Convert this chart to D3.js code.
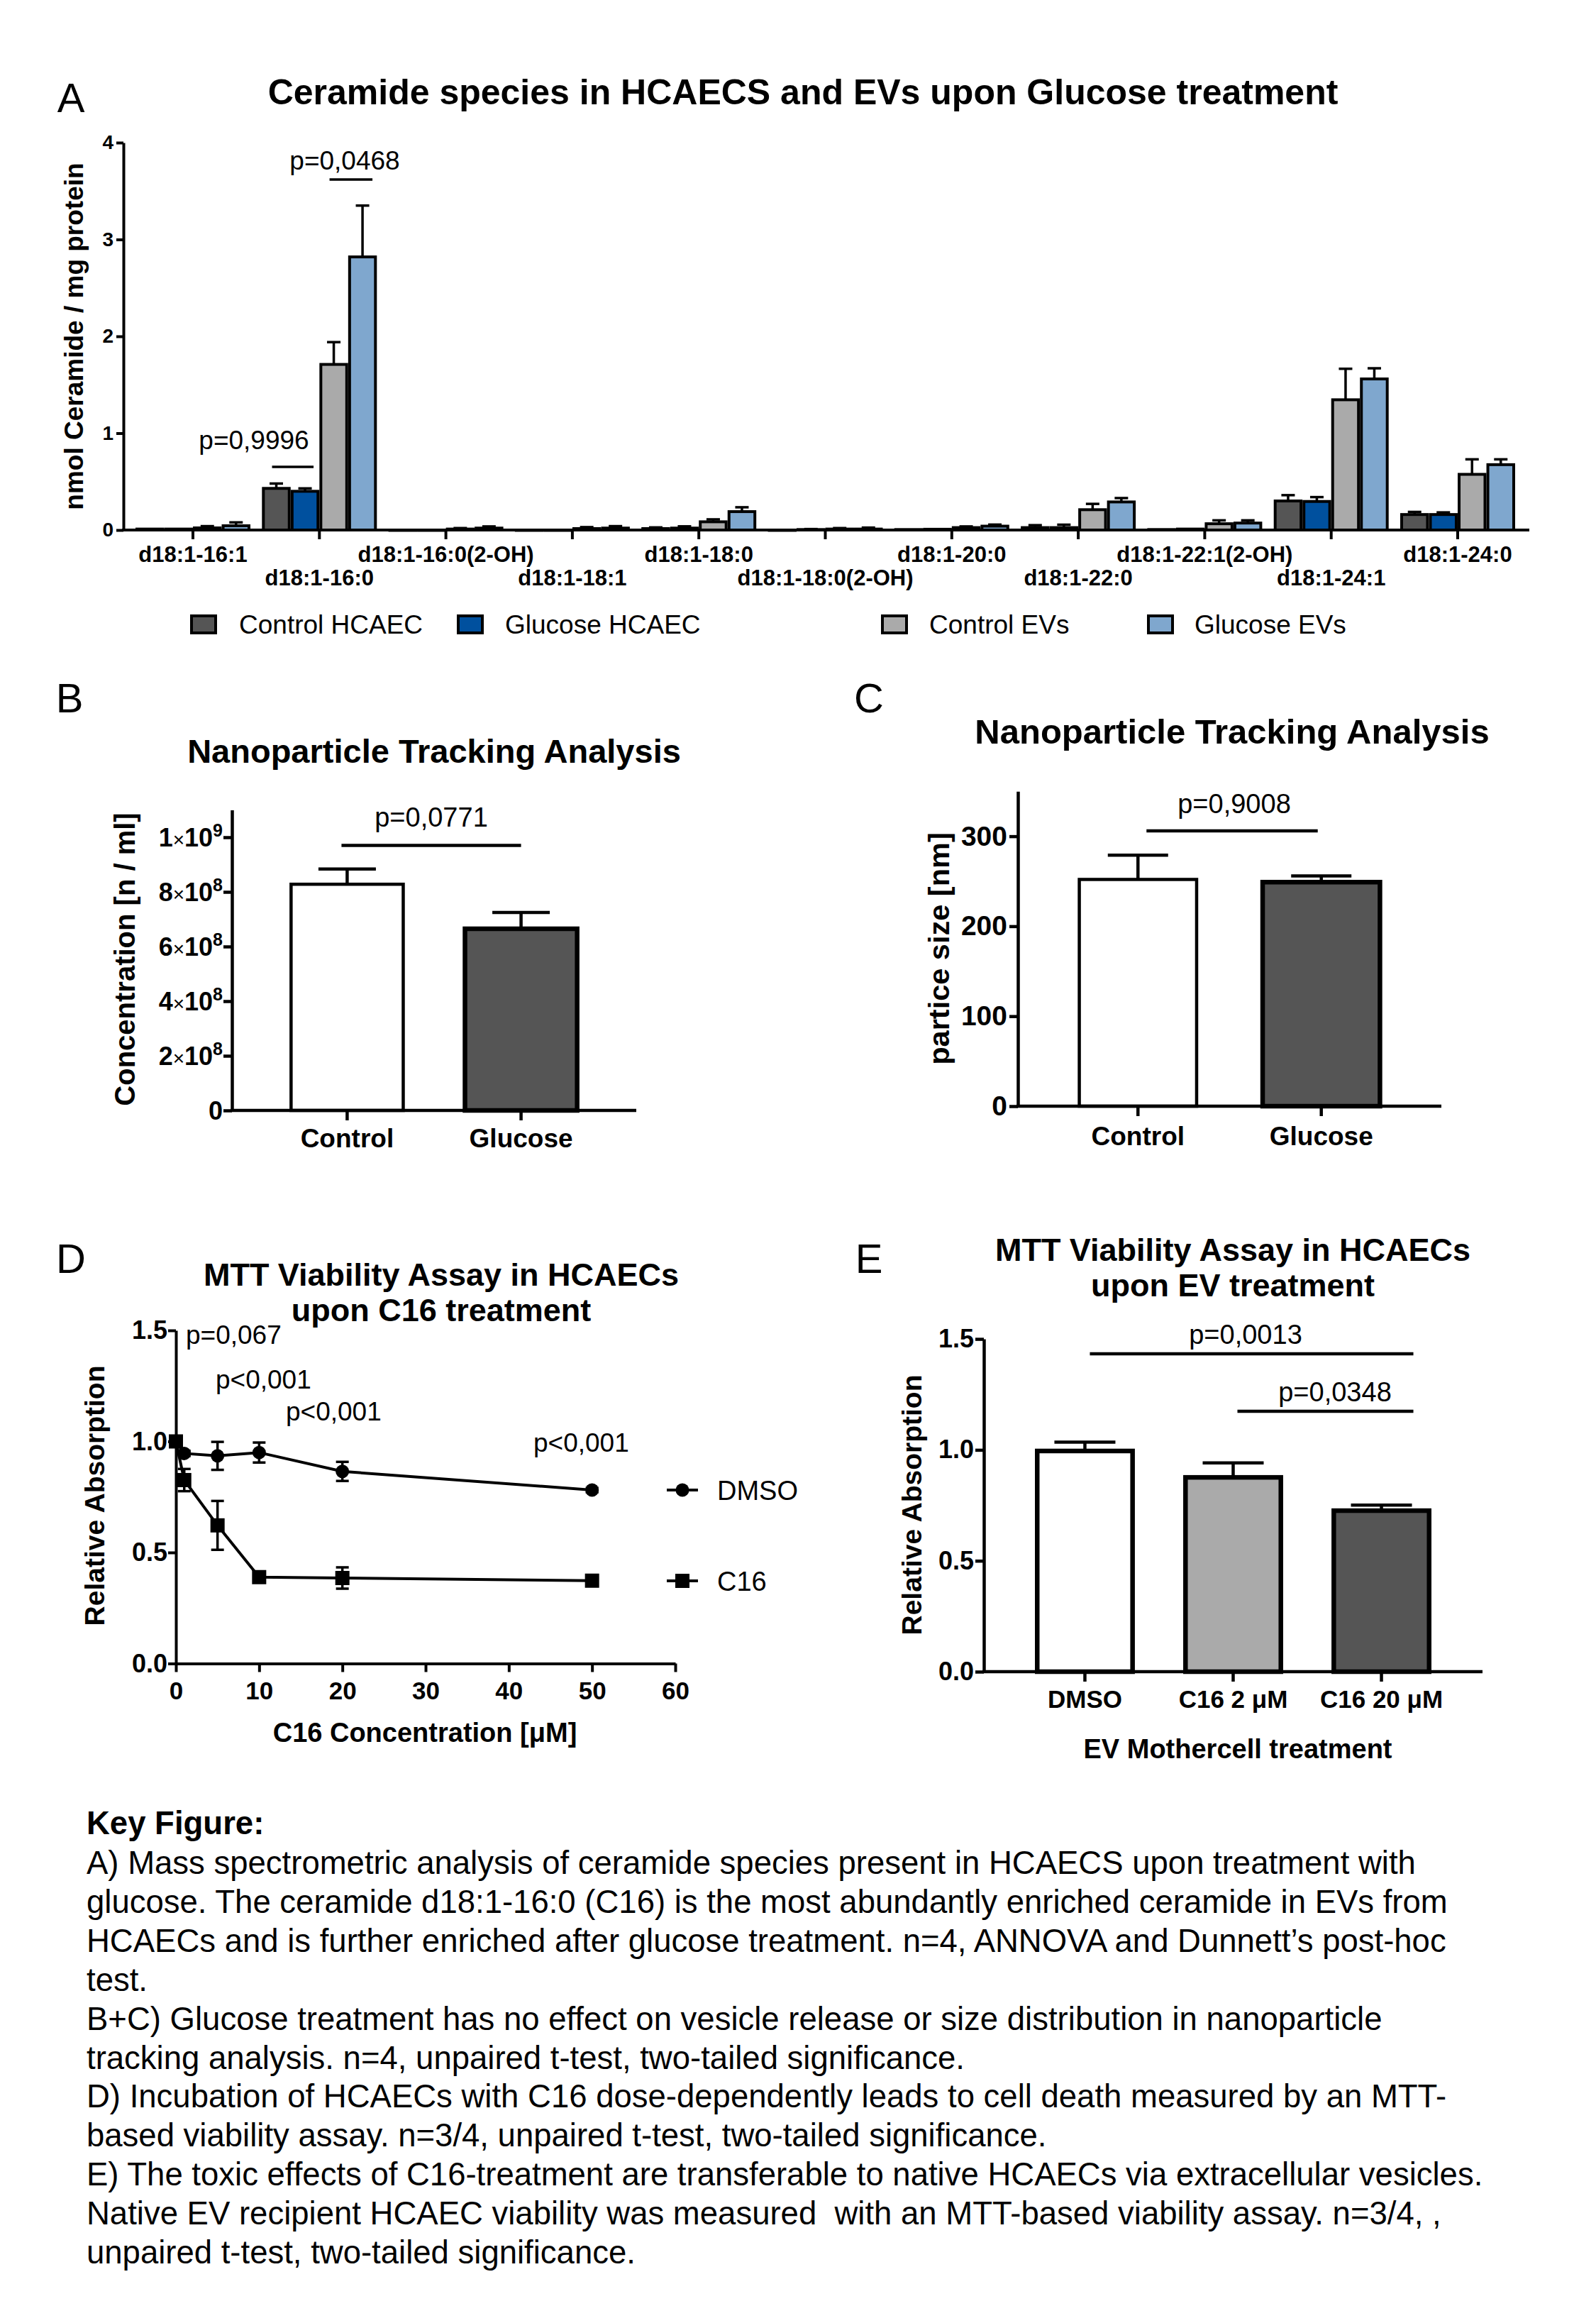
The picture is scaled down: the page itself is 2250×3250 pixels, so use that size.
<!DOCTYPE html>
<html>
<head>
<meta charset="utf-8">
<script src="https://cdn.jsdelivr.net/npm/d3@7"></script>
<style>
  body { margin: 0; background: #fff; }
  text { font-family: "Liberation Sans", Arial, Helvetica, sans-serif; fill: #000; }
</style>
</head>
<body>
<div id="fig"></div>
<script>

// ---- panel A: ceramide species ----
const ceramideSpecies = ["d18:1-16:1", "d18:1-16:0", "d18:1-16:0(2-OH)", "d18:1-18:1", "d18:1-18:0",
  "d18:1-18:0(2-OH)", "d18:1-20:0", "d18:1-22:0", "d18:1-22:1(2-OH)", "d18:1-24:1", "d18:1-24:0"];
const groupsA = ["Control HCAEC", "Glucose HCAEC", "Control EVs", "Glucose EVs"];
const colorsA = ["#555555", "#00509e", "#aaaaaa", "#7fa7ce"];
const ctrlHcaec    = [0.01, 0.43, 0.0,  0.0,   0.015, 0.0,   0.005, 0.025, 0.005, 0.30,  0.16];
const ctrlHcaecSem = [0.0,  0.05, 0.0,  0.0,   0.012, 0.0,   0.0,   0.025, 0.0,   0.06,  0.027];
const glucHcaec    = [0.01, 0.40, 0.0,  0.0,   0.02,  0.005, 0.008, 0.025, 0.01,  0.295, 0.16];
const glucHcaecSem = [0.0,  0.03, 0.0,  0.0,   0.018, 0.005, 0.0,   0.03,  0.0,   0.045, 0.022];
const ctrlEv       = [0.022, 1.71, 0.01, 0.015, 0.085, 0.01,  0.025, 0.21,  0.065, 1.345, 0.575];
const ctrlEvSem    = [0.018, 0.23, 0.01, 0.015, 0.025, 0.01,  0.012, 0.06,  0.035, 0.32,  0.155];
const glucEv       = [0.044, 2.82, 0.02, 0.02,  0.19,  0.01,  0.04,  0.29,  0.072, 1.56,  0.675];
const glucEvSem    = [0.035, 0.53, 0.017, 0.02, 0.045, 0.015, 0.016, 0.04,  0.028, 0.11,  0.055];
const ticksA = [0, 1, 2, 3, 4];

// ---- panel B: NTA concentration ----
const groupsB = ["Control", "Glucose"];
const concB = [8.28e8, 6.65e8];
const concBSem = [0.56e8, 0.6e8];
const ticksB = [0, 2e8, 4e8, 6e8, 8e8, 1e9];

// ---- panel C: NTA particle size ----
const groupsC = ["Control", "Glucose"];
const sizeC = [252, 249];
const sizeCSem = [27, 7];
const ticksC = [0, 100, 200, 300];

// ---- panel D: MTT dose response ----
const concD = [0, 1, 5, 10, 20, 50];
const dmsoD = [1.0, 0.946, 0.935, 0.95, 0.865, 0.781];
const dmsoDSem = [0.01, 0.012, 0.063, 0.045, 0.043, 0.01];
const c16D = [1.0, 0.826, 0.622, 0.389, 0.385, 0.373];
const c16DSem = [0.02, 0.05, 0.11, 0.012, 0.048, 0.012];
const pLabelsD = ["p=0,067", "p<0,001", "p<0,001", "p<0,001"];
const ticksDx = [0, 10, 20, 30, 40, 50, 60];
const ticksDy = [0, 0.5, 1.0, 1.5];

// ---- panel E: MTT after EV treatment ----
const groupsE = ["DMSO", "C16 2 \u03bcM", "C16 20 \u03bcM"];
const absE = [0.995, 0.876, 0.726];
const absESem = [0.04, 0.065, 0.025];
const ticksE = [0, 0.5, 1.0, 1.5];

const captionLines = [
  "A) Mass spectrometric analysis of ceramide species present in HCAECS upon treatment with",
  "glucose. The ceramide d18:1-16:0 (C16) is the most abundantly enriched ceramide in EVs from",
  "HCAECs and is further enriched after glucose treatment. n=4, ANNOVA and Dunnett\u2019s post-hoc",
  "test.",
  "B+C) Glucose treatment has no effect on vesicle release or size distribution in nanoparticle",
  "tracking analysis. n=4, unpaired t-test, two-tailed significance.",
  "D) Incubation of HCAECs with C16 dose-dependently leads to cell death measured by an MTT-",
  "based viability assay. n=3/4, unpaired t-test, two-tailed significance.",
  "E) The toxic effects of C16-treatment are transferable to native HCAECs via extracellular vesicles.",
  "Native EV recipient HCAEC viability was measured  with an MTT-based viability assay. n=3/4, ,",
  "unpaired t-test, two-tailed significance."
];

const FONT = '"Liberation Sans", Arial, Helvetica, sans-serif';
const W = 2250, H = 3250;

const svg = d3.select("#fig").append("svg")
  .attr("width", W).attr("height", H)
  .attr("viewBox", `0 0 ${W} ${H}`);
svg.append("rect").attr("width", W).attr("height", H).attr("fill", "#fff");

// small helpers
const label = (g, x, y, txt, size, opts = {}) => g.append("text")
  .attr("x", x).attr("y", y)
  .attr("font-size", size)
  .attr("font-weight", opts.bold ? "bold" : "normal")
  .attr("text-anchor", opts.anchor || "start")
  .attr("transform", opts.rotate ? `rotate(-90,${x},${y})` : null)
  .text(txt);

const hline = (g, x1, x2, y, sw) => g.append("line")
  .attr("x1", x1).attr("x2", x2).attr("y1", y).attr("y2", y)
  .attr("stroke", "#000").attr("stroke-width", sw);

const styleAxis = (g, sw, size) => {
  g.attr("font-family", FONT).attr("font-size", size).attr("font-weight", "bold");
  g.select(".domain").attr("stroke-width", sw).attr("stroke", "#000");
  g.selectAll(".tick line").attr("stroke-width", sw).attr("stroke", "#000");
  g.selectAll(".tick text").attr("fill", "#000");
};

// upward error bar (GraphPad style)
const errUp = (g, x, y0, y1, capW, sw) => {
  g.append("line").attr("x1", x).attr("x2", x).attr("y1", y0).attr("y2", y1)
    .attr("stroke", "#000").attr("stroke-width", sw);
  g.append("line").attr("x1", x - capW / 2).attr("x2", x + capW / 2).attr("y1", y1).attr("y2", y1)
    .attr("stroke", "#000").attr("stroke-width", sw);
};

// panel letters
[["A", 100, 158], ["B", 98, 1004], ["C", 1225, 1004], ["D", 100, 1794], ["E", 1225, 1794]]
  .forEach(([t, x, y]) => label(svg, x, y, t, 58, { anchor: "middle" }));

// ================= A =================
{
  const g = svg.append("g");
  const valsA = [ctrlHcaec, glucHcaec, ctrlEv, glucEv];
  const semA = [ctrlHcaecSem, glucHcaecSem, ctrlEvSem, glucEvSem];

  const x = d3.scalePoint().domain(ceramideSpecies).range([272, 2055]);
  const xs = d3.scaleBand().domain(groupsA).range([-79, 79]).paddingInner(0.1);
  const y = d3.scaleLinear().domain([0, 4]).range([747, 201]);

  label(g, 1132, 147, "Ceramide species in HCAECS and EVs upon Glucose treatment", 50, { bold: true, anchor: "middle" });

  groupsA.forEach((s, si) => {
    ceramideSpecies.forEach((c, ci) => {
      const v = valsA[si][ci], e = semA[si][ci];
      const bx = x(c) + xs(s);
      const cx = bx + xs.bandwidth() / 2;
      if (e > 0) errUp(g, cx, y(v), y(v + e), 19, 3.5);
      g.append("rect")
        .attr("x", bx).attr("y", y(v))
        .attr("width", xs.bandwidth()).attr("height", Math.max(0.5, y(0) - y(v)))
        .attr("fill", colorsA[si]).attr("stroke", "#000").attr("stroke-width", 4);
    });
  });

  const ay = g.append("g").attr("transform", "translate(174,0)")
    .call(d3.axisLeft(y).tickValues(ticksA).tickSize(10).tickSizeOuter(0).tickPadding(4).tickFormat(d3.format("d")));
  styleAxis(ay, 4, 28);

  hline(g, 172, 2156, 747, 4);
  ceramideSpecies.forEach((c, i) => {
    g.append("line").attr("x1", x(c)).attr("x2", x(c)).attr("y1", 747).attr("y2", 760)
      .attr("stroke", "#000").attr("stroke-width", 4);
    label(g, x(c), i % 2 === 0 ? 792 : 825, c, 31, { bold: true, anchor: "middle" });
  });

  label(g, 117, 474, "nmol Ceramide / mg protein", 37, { bold: true, anchor: "middle", rotate: true });

  // significance bars
  const c16 = ceramideSpecies[1];
  const bc = i => x(c16) + xs(groupsA[i]) + xs.bandwidth() / 2;
  hline(g, bc(0) - 6, bc(1) + 12, 658, 3.5);
  label(g, 358, 633, "p=0,9996", 37, { anchor: "middle" });
  hline(g, bc(2) - 6, bc(3) + 14, 253, 3.5);
  label(g, 486, 239, "p=0,0468", 37, { anchor: "middle" });

  // legend
  const legX = [[270, 337], [646, 712], [1244, 1310], [1619, 1684]];
  groupsA.forEach((s, i) => {
    g.append("rect").attr("x", legX[i][0]).attr("y", 868).attr("width", 34).attr("height", 24)
      .attr("fill", colorsA[i]).attr("stroke", "#000").attr("stroke-width", 4);
    label(g, legX[i][1], 893, s, 37);
  });
}

// ============ simple bar panels (B, C, E) ============
function barPanel(cfg) {
  const g = svg.append("g");
  const x = d3.scaleBand().domain(cfg.cats).range([cfg.x0, cfg.x1])
    .paddingInner(cfg.padIn).paddingOuter(cfg.padOut);
  const y = d3.scaleLinear().domain(cfg.domain).range([cfg.y0, cfg.yTop]);

  cfg.cats.forEach((c, i) => {
    const cx = x(c) + x.bandwidth() / 2;
    errUp(g, cx, y(cfg.vals[i]), y(cfg.vals[i] + cfg.sem[i]), cfg.capW, 4.5);
    g.append("rect")
      .attr("x", x(c)).attr("y", y(cfg.vals[i]))
      .attr("width", x.bandwidth()).attr("height", y(0) - y(cfg.vals[i]))
      .attr("fill", cfg.fills[i]).attr("stroke", "#000").attr("stroke-width", cfg.strokes[i]);
    g.append("line").attr("x1", cx).attr("x2", cx).attr("y1", cfg.y0).attr("y2", cfg.y0 + 14)
      .attr("stroke", "#000").attr("stroke-width", 4.5);
    label(g, cx, cfg.xLabY, c, cfg.catSize || 35, { bold: true, anchor: "middle" });
  });

  const ay = g.append("g").attr("transform", `translate(${cfg.x0},0)`)
    .call(d3.axisLeft(y).tickValues(cfg.ticks).tickSize(12).tickSizeOuter(0)
      .tickPadding(cfg.tickPad).tickFormat(cfg.fmt || (() => "")));
  styleAxis(ay, 4.5, cfg.tickSize);
  hline(g, cfg.x0 - 2, cfg.x1, cfg.y0, 4.5);

  cfg.titles.forEach((t, i) => label(g, cfg.titleX, cfg.titleY + i * 50, t, cfg.titleSize || 45, { bold: true, anchor: "middle" }));
  label(g, cfg.yLabX, cfg.yLabY, cfg.yLab, cfg.yLabSize || 39, { bold: true, anchor: "middle", rotate: true });
  if (cfg.xLab) label(g, cfg.xLab[0], cfg.xLab[1], cfg.xLab[2], 38, { bold: true, anchor: "middle" });

  cfg.sig.forEach(s => {
    const a = x(s.from) + x.bandwidth() / 2, b = x(s.to) + x.bandwidth() / 2 + s.extra;
    hline(g, a + s.shift, b, y(s.at), 4.5);
    label(g, s.tx, s.ty, s.text, 38, { anchor: "middle" });
  });
  return { g, x, y };
}

// B
{
  const p = barPanel({
    cats: groupsB, vals: concB, sem: concBSem, fills: ["#fff", "#555555"], strokes: [4.5, 6.5],
    x0: 327, x1: 897, padIn: 0.355, padOut: 0.34, y0: 1565, yTop: 1565 - 385 * 1.1,
    domain: [0, 1.1e9], ticks: ticksB, tickPad: 3, tickSize: 30, capW: 81, catSize: 37,
    xLabY: 1617, titles: ["Nanoparticle Tracking Analysis"], titleX: 612, titleY: 1075, titleSize: 47,
    yLab: "Concentration  [n / ml]", yLabX: 190, yLabY: 1352, yLabSize: 40,
    sig: [{ from: "Control", to: "Glucose", extra: 0, shift: -8, at: 0.97e9, text: "p=0,0771", tx: 608, ty: 1165 }]
  });
  // 1×10^9 style tick labels
  ticksB.forEach(v => {
    const t = p.g.append("text").attr("x", 314).attr("y", p.y(v) + 13)
      .attr("text-anchor", "end").attr("font-size", 36).attr("font-weight", "bold");
    if (v === 0) { t.text("0"); return; }
    const ex = Math.floor(Math.log10(v) + 1e-9);
    t.append("tspan").text(Math.round(v / Math.pow(10, ex)));
    t.append("tspan").attr("font-weight", "normal").attr("font-size", 28).text("\u00d7");
    t.append("tspan").text("10");
    t.append("tspan").attr("font-size", 25).attr("dy", -14).text(ex);
  });
}

// C
barPanel({
  cats: groupsC, vals: sizeC, sem: sizeCSem, fills: ["#fff", "#555555"], strokes: [4.5, 6.5],
  x0: 1435, x1: 2032, padIn: 0.36, padOut: 0.335, y0: 1559, yTop: 1559 - 350 * 1.268,
  domain: [0, 350], ticks: ticksC, tickPad: 3, tickSize: 39, capW: 85, fmt: d3.format("d"), catSize: 37,
  xLabY: 1614, titles: ["Nanoparticle Tracking Analysis"], titleX: 1737, titleY: 1048, titleSize: 49,
  yLab: "partice size [nm]", yLabX: 1338, yLabY: 1337, yLabSize: 41.5,
  sig: [{ from: "Control", to: "Glucose", extra: -5, shift: 12, at: 306, text: "p=0,9008", tx: 1740, ty: 1146 }]
});

// E
barPanel({
  cats: groupsE, vals: absE, sem: absESem, fills: ["#fff", "#aaaaaa", "#555555"], strokes: [6.5, 6.5, 6.5],
  x0: 1387, x1: 2090, padIn: 0.357, padOut: 0.36, y0: 2356, yTop: 2356 - 1.5 * 312.6,
  domain: [0, 1.5], ticks: ticksE, tickPad: 2, tickSize: 36, capW: 86, fmt: d3.format(".1f"),
  xLabY: 2407, titles: ["MTT Viability Assay in HCAECs", "upon EV treatment"], titleX: 1738, titleY: 1777,
  yLab: "Relative Absorption", yLabX: 1299, yLabY: 2121,
  xLab: [1745, 2478, "EV Mothercell treatment"],
  sig: [
    { from: "DMSO", to: "C16 20 \u03bcM", extra: 45, shift: 7, at: 1.433, text: "p=0,0013", tx: 1756, ty: 1894 },
    { from: "C16 2 \u03bcM", to: "C16 20 \u03bcM", extra: 45, shift: 6, at: 1.174, text: "p=0,0348", tx: 1882, ty: 1975 }
  ]
});

// ================= D =================
{
  const g = svg.append("g");
  const x = d3.scaleLinear().domain([0, 60]).range([248, 952]);
  const y = d3.scaleLinear().domain([0, 1.5]).range([2344.5, 1875]);

  label(g, 622, 1812, "MTT Viability Assay in HCAECs", 45, { bold: true, anchor: "middle" });
  label(g, 622, 1862, "upon C16 treatment", 45, { bold: true, anchor: "middle" });

  const ay = g.append("g").attr("transform", "translate(248,0)")
    .call(d3.axisLeft(y).tickValues(ticksDy).tickSize(11).tickSizeOuter(0).tickPadding(1).tickFormat(d3.format(".1f")));
  styleAxis(ay, 4, 36);
  const ax = g.append("g").attr("transform", "translate(0,2344.5)")
    .call(d3.axisBottom(x).tickValues(ticksDx).tickSize(12).tickSizeOuter(0).tickPadding(14).tickFormat(d3.format("d")));
  styleAxis(ax, 4, 35);

  label(g, 147, 2108, "Relative Absorption", 39, { bold: true, anchor: "middle", rotate: true });
  label(g, 599, 2455, "C16 Concentration [\u03bcM]", 38, { bold: true, anchor: "middle" });

  const series = [
    { name: "DMSO", vals: dmsoD, sem: dmsoDSem, shape: "circle", ly: 2100 },
    { name: "C16", vals: c16D, sem: c16DSem, shape: "square", ly: 2228 }
  ];
  const line = d3.line().x(d => x(d[0])).y(d => y(d[1]));
  const marker = (sel, shape, cx, cy) => shape === "circle"
    ? sel.append("circle").attr("cx", cx).attr("cy", cy).attr("r", 9.5).attr("fill", "#000")
    : sel.append("rect").attr("x", cx - 10).attr("y", cy - 10).attr("width", 20).attr("height", 20).attr("fill", "#000");

  series.forEach(s => {
    const pts = concD.map((c, i) => [c, s.vals[i]]);
    g.append("path").attr("d", line(pts)).attr("fill", "none").attr("stroke", "#000").attr("stroke-width", 4);
    concD.forEach((c, i) => {
      const cx = x(c);
      const lo = y(s.vals[i] - s.sem[i]), hi = y(s.vals[i] + s.sem[i]);
      g.append("line").attr("x1", cx).attr("x2", cx).attr("y1", lo).attr("y2", hi).attr("stroke", "#000").attr("stroke-width", 3.5);
      [lo, hi].forEach(yy => hline(g, cx - 9, cx + 9, yy, 3.5));
      marker(g, s.shape, cx, y(s.vals[i]));
    });
    // legend
    hline(g, 940, 984, s.ly, 4);
    marker(g, s.shape, 962, s.ly);
    label(g, 1011, s.ly + 14, s.name, 38);
  });

  // p-values
  [[262, 1894], [304, 1957], [403, 2002], [752, 2046]].forEach(([px, py], i) => label(g, px, py, pLabelsD[i], 37));
}

// ================= caption =================
{
  const g = svg.append("g");
  label(g, 122, 2585, "Key Figure:", 45.5, { bold: true });
  captionLines.forEach((t, i) => label(g, 122, 2641 + i * 54.9, t, 45.5).attr("xml:space", "preserve").style("white-space", "pre"));
}
</script>
</body>
</html>
